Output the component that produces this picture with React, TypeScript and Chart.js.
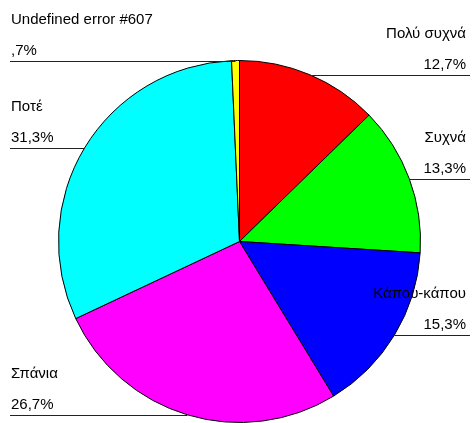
import React, { useEffect, useRef } from "react";
import { Chart, registerables } from "chart.js";

Chart.register(...registerables);

const categories = ["Πολύ συχνά", "Συχνά", "Κάπου-κάπου", "Σπάνια", "Ποτέ", "Undefined error #607"];
const shares = [12.7, 13.3, 15.3, 26.7, 31.3, 0.7];
const sliceColors = ["#ff0000", "#00ff00", "#0000ff", "#ff00ff", "#00ffff", "#ffff00"];

// "12,7%" style with a decimal comma; values below one drop the leading zero (",7%").
const formatShare = (v: number) => v.toFixed(1).replace(".", ",").replace(/^0,/, ",") + "%";

const W = 472;
const H = 423;

const leaderLabels = {
  id: "leaderLabels",
  afterDraw(chart: Chart) {
    const { ctx } = chart;
    const meta = chart.getDatasetMeta(0);
    ctx.save();
    ctx.font = '15px "Liberation Sans", Arial, sans-serif';
    ctx.fillStyle = "#000";
    ctx.strokeStyle = "#222";
    ctx.lineWidth = 1;
    meta.data.forEach((el: any, i: number) => {
      const { x, y, startAngle, endAngle, outerRadius } = el.getProps(
        ["x", "y", "startAngle", "endAngle", "outerRadius"],
        true
      );
      const mid = (startAngle + endAngle) / 2;
      const px = x + Math.cos(mid) * outerRadius;
      const py = Math.round(y + Math.sin(mid) * outerRadius) + 0.5;
      const left = px < x;
      const edge = left ? 10 : W - 2;
      ctx.beginPath();
      ctx.moveTo(edge, py);
      ctx.lineTo(px, py);
      ctx.stroke();
      ctx.textAlign = left ? "left" : "right";
      ctx.textBaseline = "alphabetic";
      const tx = left ? 11 : W - 6;
      ctx.fillText(formatShare(shares[i]), tx, py - 7);
      ctx.fillText(categories[i], tx, py - 38);
    });
    ctx.restore();
  },
};

export default function App() {
  const canvasRef = useRef<HTMLCanvasElement>(null);

  useEffect(() => {
    if (!canvasRef.current) return;
    const chart = new Chart(canvasRef.current, {
      type: "pie",
      data: {
        labels: categories,
        datasets: [
          {
            data: shares,
            backgroundColor: sliceColors,
            borderColor: "#000",
            borderWidth: 1,
          },
        ],
      },
      options: {
        responsive: false,
        animation: false,
        layout: { padding: { left: 58, right: 51, top: 60, bottom: 0 } },
        plugins: {
          legend: { display: false },
          tooltip: { enabled: false },
        },
      },
      plugins: [leaderLabels],
    });
    return () => chart.destroy();
  }, []);

  return (
    <div style={{ position: "absolute", left: 0, top: 0, width: W, height: H, background: "#fff" }}>
      <canvas ref={canvasRef} width={W} height={H} style={{ display: "block" }} />
    </div>
  );
}
